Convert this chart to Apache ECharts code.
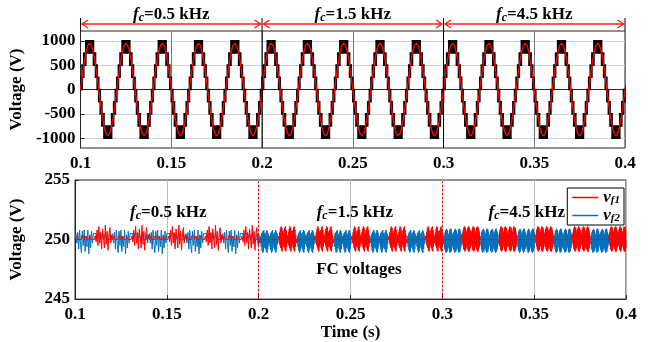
<!DOCTYPE html>
<html><head><meta charset="utf-8">
<script src="https://cdn.jsdelivr.net/npm/echarts@6/dist/echarts.min.js"></script>
<style>html,body{margin:0;padding:0;background:#fff}#c{width:649px;height:342px}</style>
</head><body><div id="c"></div>
<script>
// ================= DATA =================
const xTicks = [0.1, 0.15, 0.2, 0.25, 0.3, 0.35, 0.4];
const topYTicks = [-1000, -500, 0, 500, 1000];
const botYTicks = [245, 250, 255];
const regionBounds = [0.1, 0.2, 0.3, 0.4];
const regionLabels = ['0.5 kHz', '1.5 kHz', '4.5 kHz'];

// 50 Hz cycle start times (s)
const cycleStarts = [0.10, 0.12, 0.14, 0.16, 0.18, 0.20, 0.22, 0.24, 0.26, 0.28, 0.30, 0.32, 0.34, 0.36, 0.38];
const cycleMs = 20;
// red reference within one cycle: time offset (ms) and voltage (V)
const refMs = [0, 1, 2, 3, 4, 5, 6, 7, 8, 9, 10, 11, 12, 13, 14, 15, 16, 17, 18, 19];
const refV  = [0, 294, 559, 769, 904, 950, 904, 769, 559, 294, 0, -294, -559, -769, -904, -950, -904, -769, -559, -294];
// black multilevel output: level band (lower level, band of 250 V) within one cycle
const bandMs  = [0, 0.85, 1.76, 2.89, 7.11, 8.24, 9.15, 10, 10.85, 11.76, 12.89, 17.11, 18.24, 19.15];
const bandLow = [0, 250, 500, 750, 500, 250, 0, -250, -500, -750, -1000, -750, -500, -250];
const bandStep = 250;

// FC voltages
const fcNominal = 250;
const vf1Bursts = [[0.1110,0.1205],[0.1310,0.1405],[0.1510,0.1605],[0.1710,0.1805],[0.1910,0.2005],[0.2110,0.2205],[0.2310,0.2405],[0.2510,0.2605],[0.2710,0.2805],[0.2910,0.3005],[0.3110,0.3205],[0.3310,0.3405],[0.3510,0.3605],[0.3710,0.3805],[0.3910,0.4000]];
const vf2Bursts = [[0.1010,0.1105],[0.1210,0.1305],[0.1410,0.1505],[0.1610,0.1705],[0.1810,0.1905],[0.2010,0.2105],[0.2210,0.2305],[0.2410,0.2505],[0.2610,0.2705],[0.2810,0.2905],[0.3010,0.3105],[0.3210,0.3305],[0.3410,0.3505],[0.3610,0.3705],[0.3810,0.3905]];
const regionStep = [0.0005, 0.0002, 0.0001];
const ripple05Red  = [0.3,-0.2,0.8,-0.5,1.1,-0.3,0.6,-0.8,0.9,0.2,-0.7,1.2,-0.4,0.7,-0.9,0.5,1.0,-0.3,0.4,-0.2];
const ripple05Blue = [-0.3,0.6,-0.8,0.8,-0.4,-1.1,0.7,-0.5,0.8,-1.0,0.3,-0.6,0.8,-1.2,0.4,-0.7,0.7,-0.3,0.5,-0.4];
const idle05Red  = [0,0,0.3,0.3,0,0,0,0.3,0.3,0.3,0,0,0.3,0,0,0,0.3,0.3,0,0];
const idle05Blue = [0,0.5,0.5,0,0,0.5,0.5,0.5,0,0,0.5,0,0,0.5,0.5,0,0,0,0.5,0];
const ripple15Red  = [0.3,-0.3,0.6,-0.5,0.9,-0.7,1.1,-0.9,1.0,-1.0,0.7,-0.6,0.5,-0.4,0.8,-0.7,1.0,-0.9,1.1,-1.0,0.8,-0.6,0.4,-0.3];
const ripple15Blue = [-0.3,0.3,-0.6,0.5,-0.9,0.6,-1.1,0.7,-1.0,0.8,-0.7,0.5,-0.5,0.4,-0.8,0.6,-1.0,0.8,-1.1,0.7,-0.8,0.5,-0.4,0.3];
const ripple45Red  = [0.4,-0.3,0.6,-0.5,0.8,-0.6,0.9,-0.8,1.0,-0.9,1.1,-0.9,1.0,-1.0,0.9,-0.8,1.0,-0.9,0.8,-0.7,0.6,-0.5,0.4,-0.3,0.5,-0.4,0.7,-0.6,0.9,-0.8,1.0,-0.9,1.1,-1.0,1.0,-0.9,0.9,-1.0,1.0,-0.8,0.8,-0.7,0.7,-0.6,0.5,-0.4,0.3,-0.2];
const ripple45Blue = [-0.4,0.3,-0.6,0.4,-0.8,0.6,-0.9,0.7,-1.0,0.8,-1.1,0.8,-1.0,0.9,-0.9,0.7,-1.0,0.8,-0.8,0.6,-0.6,0.4,-0.4,0.3,-0.5,0.4,-0.7,0.5,-0.9,0.7,-1.0,0.8,-1.1,0.9,-1.0,0.8,-0.9,0.9,-1.0,0.7,-0.8,0.6,-0.7,0.5,-0.5,0.4,-0.3,0.2];
const vf1Ripple = [ripple05Red, ripple15Red, ripple45Red];
const vf2Ripple = [ripple05Blue, ripple15Blue, ripple45Blue];
const vf1Idle = [idle05Red, null, null];
const vf2Idle = [idle05Blue, null, null];

// ================= BUILD =================
const refData = [];
cycleStarts.forEach(c => refMs.forEach((ms, k) => refData.push([c + ms / 1000, refV[k]])));
refData.push([0.4, 0]);
// band items: [t0, t1, lowerLevel]
const bandItems = [];
cycleStarts.forEach(c => bandMs.forEach((ms, k) => {
  const nextMs = k + 1 < bandMs.length ? bandMs[k + 1] : cycleMs;
  bandItems.push([c + ms / 1000, c + nextMs / 1000, bandLow[k]]);
}));

function buildFC(bursts, ripples, idles) {
  const out = [];
  for (let r = 0; r < 3; r++) {
    const s = regionBounds[r], e = regionBounds[r + 1], st = regionStep[r];
    const n = Math.round((e - s) / st);
    for (let i = 0; i < n; i++) {
      const t = s + i * st;
      let v = fcNominal;
      const b = bursts.find(b => t >= b[0] && t < b[1]);
      if (b) {
        const idx = Math.floor((t - b[0]) / st + 1e-6) % ripples[r].length;
        v += ripples[r][idx];
      } else if (idles[r]) {
        v += idles[r][i % idles[r].length];
      }
      out.push([t, v]);
    }
  }
  out.push([0.4, fcNominal]);
  return out;
}
const vf1Data = buildFC(vf1Bursts, vf1Ripple, vf1Idle);
const vf2Data = buildFC(vf2Bursts, vf2Ripple, vf2Idle);

// ================= CHART =================
const FONT = 'Liberation Serif';
const chart = echarts.init(document.getElementById('c'));
const tickLabel = { fontFamily: FONT, fontWeight: 'bold', fontSize: 17, color: '#000' };
const axisCommon = {
  axisLine: { show: true, lineStyle: { color: '#262626', width: 1 } },
  axisTick: { show: true, inside: true, length: 4, lineStyle: { color: '#262626' } }
};
const richFc = {
  f: { fontFamily: FONT, fontWeight: 'bold', fontStyle: 'italic', fontSize: 17, lineHeight: 18, fill: '#000' },
  c: { fontFamily: FONT, fontWeight: 'bold', fontStyle: 'italic', fontSize: 12, verticalAlign: 'bottom', lineHeight: 12, fill: '#000' },
  t: { fontFamily: FONT, fontWeight: 'bold', fontSize: 17, lineHeight: 18, fill: '#000' }
};
const nameStyle = { fontFamily: FONT, fontWeight: 'bold', fontSize: 17, color: '#000' };

const option = {
  animation: false,
  backgroundColor: '#fff',
  grid: [
    { left: 70, right: 24, top: 31, height: 117, show: true, borderColor: '#262626', borderWidth: 1 },
    { left: 70, right: 23, top: 180, height: 120, show: true, borderColor: '#262626', borderWidth: 1 }
  ],
  xAxis: [
    Object.assign({ type: 'value', gridIndex: 0, min: 0.1, max: 0.4, interval: 0.05,
      axisLabel: Object.assign({ margin: 7 }, tickLabel),
      splitLine: { show: true, lineStyle: { color: '#777', width: 1 } } }, axisCommon),
    Object.assign({ type: 'value', gridIndex: 1, min: 0.1, max: 0.4, interval: 0.05,
      name: 'Time (s)', nameLocation: 'middle', nameGap: 24, nameTextStyle: nameStyle,
      axisLabel: Object.assign({ margin: 7 }, tickLabel),
      splitLine: { show: true, lineStyle: { color: '#bbb', width: 1 } } }, axisCommon)
  ],
  yAxis: [
    { type: 'value', gridIndex: 0, min: -1200, max: 1200,
      name: 'Voltage (V)', nameLocation: 'middle', nameGap: 50, nameTextStyle: nameStyle,
      axisLine: axisCommon.axisLine,
      axisTick: { show: true, inside: true, length: 4, lineStyle: { color: '#262626' }, customValues: topYTicks },
      axisLabel: Object.assign({ margin: 5, customValues: topYTicks, formatter: v => String(v) }, tickLabel),
      splitLine: { show: true, lineStyle: { color: '#d0d0d0', width: 1 } } },
    { type: 'value', gridIndex: 1, min: 245, max: 255, interval: 5,
      name: 'Voltage (V)', nameLocation: 'middle', nameGap: 50, nameTextStyle: nameStyle,
      axisLine: axisCommon.axisLine, axisTick: axisCommon.axisTick,
      axisLabel: Object.assign({ margin: 5 }, tickLabel),
      splitLine: { show: false } }
  ],
  legend: {
    data: ['vf1', 'vf2'],
    orient: 'vertical', right: 25, top: 188,
    borderColor: '#000', borderWidth: 1, padding: [1, 4, 1, 5], itemGap: 1,
    icon: 'rect', itemWidth: 26, itemHeight: 1.5,
    formatter: n => n === 'vf1' ? '{v|v}{s|f1}' : '{v|v}{s|f2}',
    textStyle: {
      fontFamily: FONT, fontSize: 16, color: '#000',
      rich: {
        v: { fontFamily: FONT, fontWeight: 'bold', fontStyle: 'italic', fontSize: 17, lineHeight: 16, color: '#000' },
        s: { fontFamily: FONT, fontWeight: 'bold', fontStyle: 'italic', fontSize: 11, verticalAlign: 'bottom', lineHeight: 11, color: '#000' }
      }
    }
  },
  series: [
    { type: 'custom', name: 'output', xAxisIndex: 0, yAxisIndex: 0, data: bandItems, clip: true,
      encode: { x: [0, 1], y: 2 }, z: 2,
      renderItem: (params, api) => {
        const p0 = api.coord([api.value(0), api.value(2) + bandStep]);
        const p1 = api.coord([api.value(1), api.value(2)]);
        return { type: 'rect', shape: { x: p0[0], y: p0[1], width: p1[0] - p0[0], height: p1[1] - p0[1] },
          style: { fill: '#000', stroke: '#000', lineWidth: 1.6 } };
      } },
    { type: 'line', name: 'ref', xAxisIndex: 0, yAxisIndex: 0, data: refData, showSymbol: false, symbol: 'none',
      lineStyle: { color: '#ff0000', width: 1.4 }, z: 3 },
    { type: 'line', name: 'vf2', xAxisIndex: 1, yAxisIndex: 1, data: vf2Data, step: 'end', showSymbol: false, symbol: 'none',
      color: '#0072BD', lineStyle: { color: '#0072BD', width: 1 }, z: 3 },
    { type: 'line', name: 'vf1', xAxisIndex: 1, yAxisIndex: 1, data: vf1Data, step: 'end', showSymbol: false, symbol: 'none',
      color: '#ff0000', lineStyle: { color: '#ff0000', width: 1 }, z: 4,
      markLine: { silent: true, symbol: ['none', 'none'], label: { show: false },
        lineStyle: { color: '#ff0000', type: [2, 2], width: 1 },
        data: [{ xAxis: regionBounds[1] }, { xAxis: regionBounds[2] }] } }
  ]
};
chart.setOption(option);

// ---- annotations placed through the axes ----
const P = (gi, x, y) => chart.convertToPixel({ gridIndex: gi }, [x, y]);
const g = [];
const topY = P(0, 0.1, 1200)[1];
const botY = P(0, 0.1, -1200)[1];
regionBounds.forEach((b, i) => {
  const x = P(0, b, 0)[0];
  const inner = i === 1 || i === 2;
  g.push({ type: 'line', shape: { x1: x, y1: topY - 13, x2: x, y2: inner ? botY : topY },
    style: { stroke: '#000', lineWidth: 1 }, z: 10 });
});
const fcText = lab => '{f|f}{c|c}{t|=' + lab + '}';
for (let i = 0; i < 3; i++) {
  const x0 = P(0, regionBounds[i], 0)[0] + 1.5, x1 = P(0, regionBounds[i + 1], 0)[0] - 1.5;
  const ay = topY - 7;
  g.push({ type: 'line', shape: { x1: x0, y1: ay, x2: x1, y2: ay }, style: { stroke: '#ff2020', lineWidth: 1.5 }, z: 10 });
  g.push({ type: 'polyline', shape: { points: [[x0 + 6, ay - 4], [x0, ay], [x0 + 6, ay + 4]] }, style: { stroke: '#ff2020', lineWidth: 1.5, fill: null }, z: 10 });
  g.push({ type: 'polyline', shape: { points: [[x1 - 6, ay - 4], [x1, ay], [x1 - 6, ay + 4]] }, style: { stroke: '#ff2020', lineWidth: 1.5, fill: null }, z: 10 });
  g.push({ type: 'text', x: (x0 + x1) / 2, y: topY - 16, z: 10,
    style: { text: fcText(regionLabels[i]), align: 'center', verticalAlign: 'middle', rich: richFc } });
}
const botLabelPos = [[0.1508, 252.25], [0.2524, 252.25], [0.346, 252.25]];
botLabelPos.forEach((p, i) => {
  const q = P(1, p[0], p[1]);
  g.push({ type: 'text', x: q[0], y: q[1], z: 10,
    style: { text: fcText(regionLabels[i]), align: 'center', verticalAlign: 'middle', rich: richFc } });
});
const fcv = P(1, 0.2546, 247.5);
g.push({ type: 'text', x: fcv[0], y: fcv[1], z: 10,
  style: { text: 'FC voltages', align: 'center', verticalAlign: 'middle', fontFamily: FONT, fontWeight: 'bold', fontSize: 17, fill: '#000' } });
chart.setOption({ graphic: g });
</script>
</body></html>
